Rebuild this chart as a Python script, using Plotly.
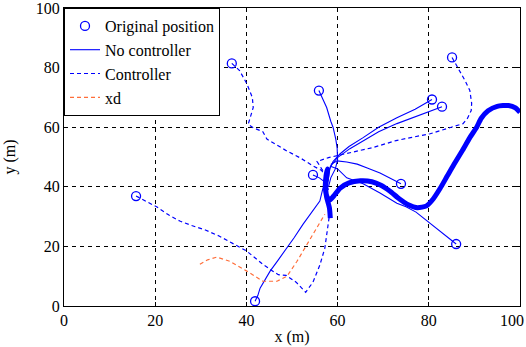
import plotly.graph_objects as go

# ---- data ----
start_x = [36.8, 55.9, 85.1, 80.7, 82.9, 15.8, 41.9, 54.6, 73.9, 86.0]
start_y = [81.4, 72.3, 83.4, 69.3, 66.9, 36.9, 1.6, 44.0, 41.0, 20.8]

# trajectories with controller (dashed)
ctrl_A_x = [15.8, 18.0, 20.4, 23.0, 25.4, 28.0, 31.0, 34.0, 37.0, 40.0, 42.0, 43.6, 45.8, 47.0, 48.7, 50.9, 53.0, 54.6, 56.1, 57.2, 57.9, 58.3]
ctrl_A_y = [36.9, 35.0, 33.2, 30.5, 28.5, 27.0, 25.5, 23.5, 21.0, 18.5, 16.0, 14.0, 11.7, 10.5, 10.3, 8.0, 4.6, 8.0, 13.7, 19.4, 27.1, 31.5]
ctrl_C_x = [36.8, 38.5, 40.1, 41.3, 41.5, 40.4, 41.5, 43.6, 44.5, 48.9, 51.8, 54.6, 56.5, 57.5]
ctrl_C_y = [81.4, 79.0, 74.6, 70.0, 66.6, 61.0, 59.8, 58.5, 56.0, 52.0, 49.7, 47.0, 45.5, 43.0]
ctrl_E_x = [85.1, 86.0, 86.8, 88.0, 89.0, 89.4, 89.3, 88.5, 87.5, 84.0, 80.3, 76.0, 72.8, 67.8, 61.8, 58.0, 55.5, 56.5, 57.5]
ctrl_E_y = [83.4, 81.0, 79.0, 75.5, 72.3, 68.0, 65.6, 63.0, 61.2, 59.5, 57.8, 56.5, 55.5, 53.2, 51.0, 49.8, 48.5, 46.0, 44.0]

# trajectories without controller (solid)
free_B_x = [41.9, 42.5, 43.0, 44.0, 45.2, 47.0, 48.9, 50.5, 52.4, 54.3, 56.1, 56.8, 57.9, 58.3]
free_B_y = [1.6, 3.5, 6.0, 8.5, 11.7, 15.5, 19.4, 23.0, 27.4, 31.5, 35.2, 39.6, 42.0, 46.0]
free_D_x = [55.9, 56.8, 57.6, 58.5, 59.0, 59.6, 59.9, 60.0, 59.5, 58.5, 58.0]
free_D_y = [72.3, 69.0, 66.6, 62.0, 60.0, 56.0, 53.0, 49.0, 46.0, 43.0, 40.0]
free_F_x = [80.7, 77.0, 73.0, 69.0, 65.6, 62.5, 60.5, 59.0, 58.0]
free_F_y = [69.3, 66.0, 63.2, 60.0, 56.5, 53.5, 51.0, 48.5, 45.0]
free_G_x = [82.9, 78.0, 73.0, 69.0, 65.6, 62.7, 59.9, 58.5, 57.8]
free_G_y = [66.9, 64.0, 61.2, 58.5, 55.5, 52.8, 49.7, 47.0, 44.0]
free_H_x = [54.6, 56.0, 57.3, 58.0]
free_H_y = [44.0, 43.0, 41.5, 39.0]
free_I_x = [73.9, 71.5, 69.3, 66.5, 64.3, 62.0, 59.9, 58.5]
free_I_y = [41.0, 43.0, 44.6, 46.3, 47.6, 48.3, 48.7, 47.5]
free_J_x = [86.0, 83.0, 80.0, 77.2, 75.0, 73.0, 69.3, 65.6, 62.0, 60.0, 58.3]
free_J_y = [20.8, 24.5, 28.2, 31.5, 33.3, 34.5, 37.9, 41.0, 43.0, 46.0, 47.0]

# converged tracking path (thick)
track_x = [58.4, 58.2, 57.6, 57.3, 57.5, 57.8, 57.4, 57.6, 58.2, 59.2, 60.5, 62.5, 65.0, 67.5, 69.5, 71.5, 73.5, 75.5, 77.5, 79.5, 81.0, 82.5, 84.0, 85.5, 87.3, 89.0, 90.5, 91.5, 93.0, 95.0, 97.5, 99.0, 100.0]
track_y = [29.5, 33.0, 36.5, 40.0, 44.0, 46.0, 40.0, 37.0, 35.5, 37.0, 39.5, 41.3, 42.0, 41.7, 40.5, 38.5, 36.0, 34.0, 33.0, 33.6, 36.0, 39.5, 43.5, 47.5, 52.0, 56.5, 60.0, 63.0, 65.5, 67.0, 67.3, 66.5, 65.0]

# desired trajectory xd
xd_x = [29.8, 31.5, 33.5, 36.4, 40.1, 43.6, 46.7, 48.9, 51.1, 53.3, 55.5, 57.2]
xd_y = [14.0, 15.5, 16.4, 15.0, 11.7, 8.3, 8.3, 10.0, 15.0, 20.7, 26.0, 30.8]

x_ticks = [0, 20, 40, 60, 80, 100]
x_ticktext = ["0", "20", "40", "60", "80", "100&nbsp;&nbsp;&nbsp;&nbsp;"]
y_ticks = [0, 20, 40, 60, 80, 100]
y_ticktext = ["0", "20", "40", "60", "80", "100"]

BLUE = "#0000ff"
ORANGE = "#ff6e3a"
DASH = "4px,3px"
FONT = "Times New Roman, Liberation Serif, DejaVu Serif, serif"

fig = go.Figure()

fig.add_trace(go.Scatter(x=start_x, y=start_y, mode="markers", name="Original position",
                         marker=dict(symbol="circle-open", size=9, color=BLUE, line=dict(width=1.3, color=BLUE))))

free = [(free_B_x, free_B_y), (free_D_x, free_D_y), (free_F_x, free_F_y), (free_G_x, free_G_y),
        (free_H_x, free_H_y), (free_I_x, free_I_y), (free_J_x, free_J_y)]
for i, (xs, ys) in enumerate(free):
    fig.add_trace(go.Scatter(x=xs, y=ys, mode="lines", name="No controller", legendgroup="free",
                             showlegend=(i == 0), line=dict(color=BLUE, width=1.1)))

ctrl = [(ctrl_A_x, ctrl_A_y), (ctrl_C_x, ctrl_C_y), (ctrl_E_x, ctrl_E_y)]
for i, (xs, ys) in enumerate(ctrl):
    fig.add_trace(go.Scatter(x=xs, y=ys, mode="lines", name="Controller", legendgroup="ctrl",
                             showlegend=(i == 0), line=dict(color=BLUE, width=1.2, dash=DASH)))

fig.add_trace(go.Scatter(x=xd_x, y=xd_y, mode="lines", name="xd",
                         line=dict(color=ORANGE, width=1.2, dash=DASH)))

fig.add_trace(go.Scatter(x=track_x, y=track_y, mode="lines", showlegend=False, legendgroup="free",
                         line=dict(color=BLUE, width=5, shape="spline", smoothing=0.6)))

axis_common = dict(showline=True, linecolor="black", linewidth=1, mirror="ticks",
                   ticks="inside", ticklen=4, tickcolor="black", automargin=False,
                   ticklabeloverflow="allow",
                   showgrid=True, gridcolor="black", gridwidth=1, griddash="4px,4px",
                   zeroline=False, tickfont=dict(family=FONT, size=16, color="black"))

fig.update_xaxes(range=[0, 100], tickvals=x_ticks, ticktext=x_ticktext,
                 title=dict(text="x (m)", font=dict(family=FONT, size=16, color="black"), standoff=2),
                 **axis_common)
fig.update_yaxes(range=[0, 100], tickvals=y_ticks, ticktext=y_ticktext,
                 title=dict(text="y (m)", font=dict(family=FONT, size=16, color="black"), standoff=16),
                 **axis_common)

fig.update_layout(
    width=526, height=347,
    margin=dict(l=64, r=6, t=8, b=41, autoexpand=False),
    paper_bgcolor="white", plot_bgcolor="white",
    font=dict(family=FONT, size=16, color="black"),
    showlegend=True,
    legend=dict(x=0, y=1, xanchor="left", yanchor="top", bgcolor="white",
                bordercolor="black", borderwidth=1, tracegroupgap=0,
                font=dict(family=FONT, size=16, color="black")),
)

fig.write_html("out.html", config={"displayModeBar": False},
               post_script="document.body.style.margin='0px';")
